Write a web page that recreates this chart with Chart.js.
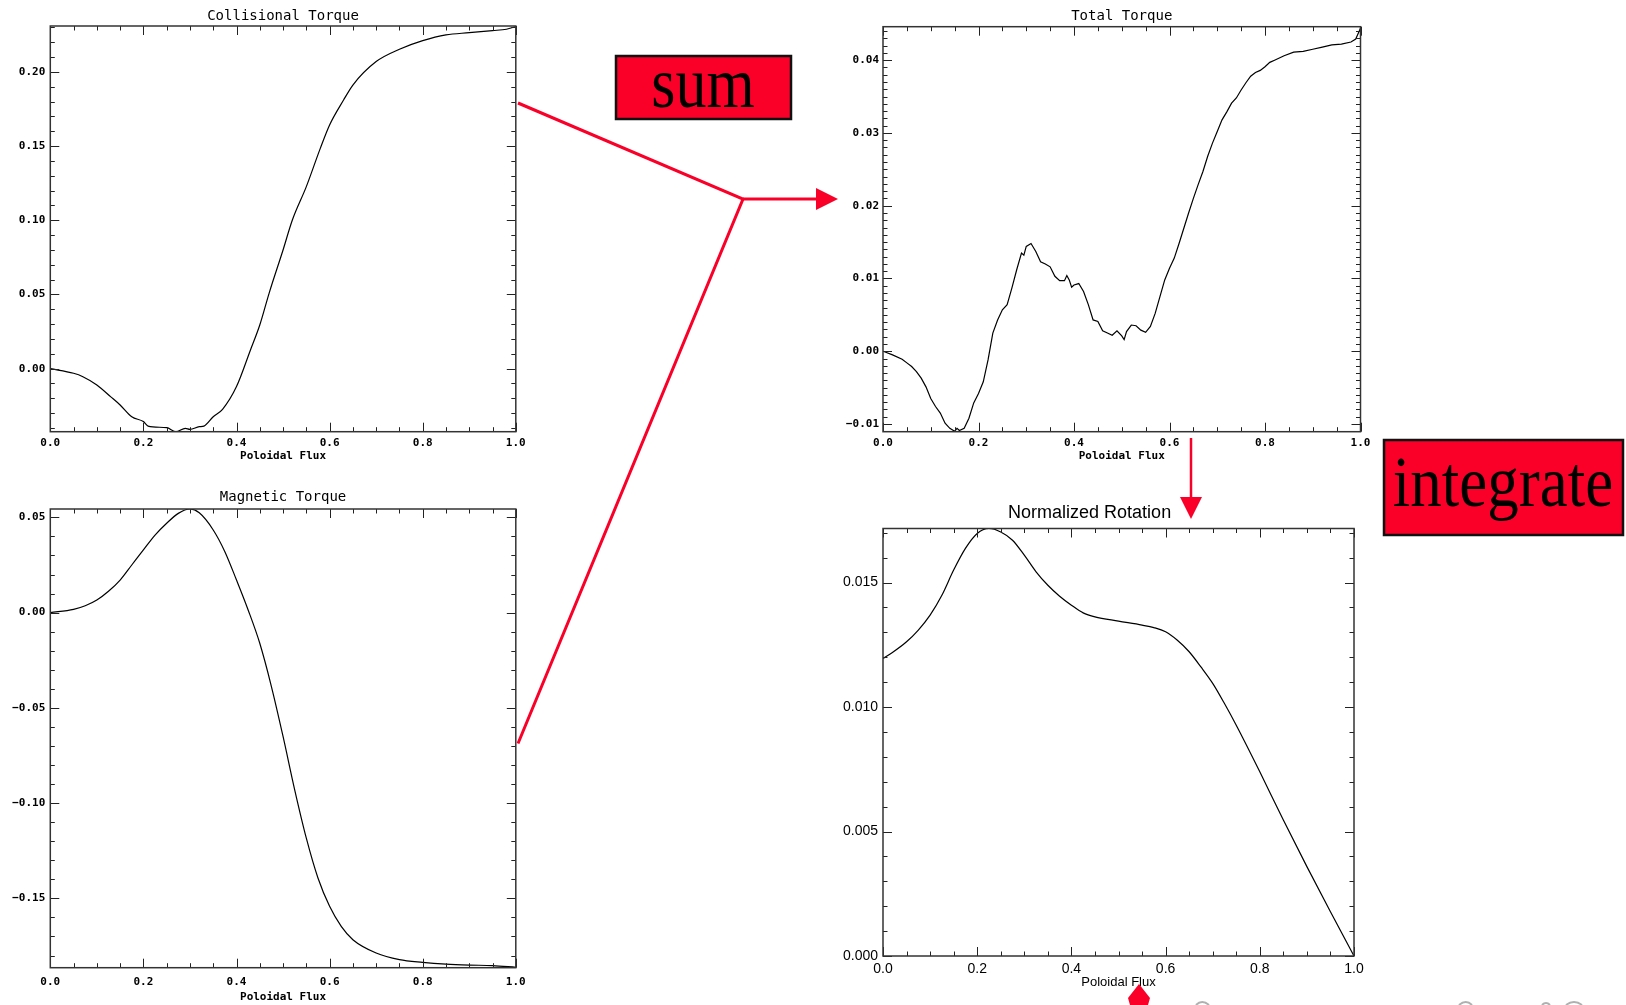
<!DOCTYPE html>
<html>
<head>
<meta charset="utf-8">
<script src="https://cdn.jsdelivr.net/npm/chart.js@4.4.0/dist/chart.umd.min.js"></script>
<style>
  html, body { margin: 0; padding: 0; background: #fff; overflow: hidden; }
  #page { position: relative; width: 1626px; height: 1005px; }
  #page canvas { position: absolute; }
  #notes { position: absolute; left: 0; top: 0; pointer-events: none; }
</style>
</head>
<body>
<div id="page">
  <canvas id="collisional" width="540" height="470" style="left:0px;top:0px"></canvas>
  <canvas id="magnetic" width="540" height="530" style="left:0px;top:475px"></canvas>
  <canvas id="total" width="560" height="470" style="left:830px;top:0px"></canvas>
  <canvas id="rotation" width="560" height="505" style="left:820px;top:500px"></canvas>
  <svg id="notes" width="1626" height="1005">
    <g stroke="#fa0028" fill="none" stroke-width="3">
      <polyline points="518,103 743,199 518,743.5" stroke-linejoin="miter"/>
      <line x1="743" y1="199" x2="818" y2="199"/>
      <line x1="1191" y1="438" x2="1191" y2="499" stroke-width="2.5"/>
    </g>
    <g fill="#fa0028">
      <polygon points="816,188 838,199 816,210"/>
      <polygon points="1180,497 1202,497 1191,519"/>
      <polygon points="1139,984 1150,998 1148,1005 1130,1005 1128,998"/>
    </g>
    <g stroke="#b0b0b0" fill="none" stroke-width="2">
      <path d="M1196,1005 Q1202,999 1209,1005"/>
      <path d="M1459,1005 Q1466,999 1472,1005"/>
      <path d="M1542,1005 Q1546,1001 1550,1005"/>
      <path d="M1566,1005 Q1574,999 1582,1005"/>
    </g>
    <rect x="616" y="56" width="175" height="63" fill="#fa0028" stroke="#111" stroke-width="2.5"/>
    <text transform="translate(703,106.5) scale(1,1.15)" text-anchor="middle"
          font-family="'Liberation Serif','DejaVu Serif',serif" font-size="62" fill="#000">sum</text>
    <rect x="1384" y="440" width="239" height="95" fill="#fa0028" stroke="#111" stroke-width="2.5"/>
    <text transform="translate(1503,506) scale(1,1.15)" text-anchor="middle"
          font-family="'Liberation Serif','DejaVu Serif',serif" font-size="63" fill="#000">integrate</text>
  </svg>
</div>
<script>
// Collisional Torque (top left)
const collisionalFlux = [0, 0.05, 0.07, 0.10, 0.13, 0.15, 0.175, 0.20, 0.21, 0.25, 0.27, 0.29, 0.30, 0.32, 0.33, 0.35, 0.37, 0.40, 0.43, 0.45, 0.47, 0.50, 0.52, 0.55, 0.58, 0.60, 0.63, 0.65, 0.70, 0.75, 0.80, 0.85, 0.90, 0.95, 0.98, 1.00];
const collisionalTorque = [0, -0.0031, -0.0054, -0.011, -0.019, -0.0245, -0.0324, -0.0357, -0.0387, -0.0398, -0.0425, -0.0402, -0.0409, -0.0391, -0.0387, -0.0324, -0.0274, -0.0121, 0.0126, 0.0294, 0.0508, 0.080, 0.1002, 0.1227, 0.1485, 0.1643, 0.1811, 0.1912, 0.207, 0.2153, 0.2211, 0.225, 0.2265, 0.2279, 0.2288, 0.2306];

// Magnetic Torque (bottom left)
const magneticFlux = [0, 0.05, 0.075, 0.10, 0.125, 0.15, 0.175, 0.20, 0.225, 0.25, 0.275, 0.30, 0.32, 0.35, 0.375, 0.40, 0.425, 0.45, 0.475, 0.50, 0.525, 0.55, 0.575, 0.60, 0.625, 0.65, 0.70, 0.75, 0.80, 0.85, 0.90, 0.95, 1.00];
const magneticTorque = [0, 0.0017, 0.0036, 0.0066, 0.0112, 0.0171, 0.025, 0.0329, 0.0407, 0.0469, 0.0521, 0.0544, 0.0524, 0.0434, 0.032, 0.0171, 0.0014, -0.0161, -0.0388, -0.065, -0.093, -0.1184, -0.1393, -0.1542, -0.1647, -0.1717, -0.1787, -0.1822, -0.1836, -0.1845, -0.185, -0.1853, -0.1862];

// Total Torque (top right)
const totalFlux = [0, 0.02, 0.04, 0.05, 0.06, 0.07, 0.08, 0.09, 0.10, 0.11, 0.12, 0.13, 0.14, 0.15, 0.155, 0.16, 0.17, 0.18, 0.19, 0.20, 0.21, 0.22, 0.23, 0.24, 0.25, 0.26, 0.27, 0.28, 0.29, 0.295, 0.30, 0.31, 0.32, 0.33, 0.34, 0.35, 0.36, 0.37, 0.38, 0.385, 0.39, 0.395, 0.40, 0.41, 0.42, 0.43, 0.44, 0.45, 0.46, 0.47, 0.48, 0.49, 0.50, 0.505, 0.51, 0.52, 0.53, 0.54, 0.55, 0.56, 0.57, 0.58, 0.59, 0.60, 0.61, 0.62, 0.63, 0.64, 0.65, 0.66, 0.67, 0.68, 0.69, 0.70, 0.71, 0.72, 0.73, 0.74, 0.75, 0.76, 0.77, 0.78, 0.79, 0.80, 0.81, 0.82, 0.84, 0.86, 0.88, 0.90, 0.92, 0.94, 0.96, 0.98, 0.99, 1.00];
const totalTorque = [0, -0.0005, -0.0011, -0.0016, -0.0021, -0.0028, -0.0037, -0.0049, -0.0065, -0.0076, -0.0085, -0.0099, -0.0106, -0.011, -0.0106, -0.0109, -0.0106, -0.0092, -0.0071, -0.0058, -0.0042, -0.0012, 0.0025, 0.0043, 0.0057, 0.0064, 0.0087, 0.0112, 0.0135, 0.0132, 0.0144, 0.0148, 0.0137, 0.0123, 0.012, 0.0116, 0.0103, 0.0097, 0.0097, 0.0104, 0.0098, 0.0088, 0.0091, 0.0093, 0.0082, 0.0064, 0.0043, 0.0041, 0.0028, 0.0025, 0.0022, 0.0028, 0.0021, 0.0016, 0.0027, 0.0036, 0.0035, 0.0029, 0.0026, 0.0034, 0.0052, 0.0075, 0.0098, 0.0114, 0.0128, 0.0148, 0.0169, 0.019, 0.021, 0.0229, 0.0247, 0.0268, 0.0286, 0.0302, 0.0318, 0.0329, 0.0341, 0.0348, 0.0359, 0.0369, 0.0378, 0.0383, 0.0386, 0.0391, 0.0397, 0.04, 0.0406, 0.0411, 0.0412, 0.0415, 0.0418, 0.0421, 0.0422, 0.0425, 0.0429, 0.0444];

// Normalized Rotation (bottom right)
const rotationFlux = [0, 0.02, 0.05, 0.075, 0.10, 0.125, 0.15, 0.175, 0.20, 0.225, 0.25, 0.275, 0.30, 0.325, 0.35, 0.375, 0.40, 0.425, 0.45, 0.50, 0.55, 0.575, 0.60, 0.625, 0.65, 0.675, 0.70, 0.725, 0.75, 0.80, 0.85, 0.90, 0.95, 1.00];
const normalizedRotation = [0.01195, 0.01219, 0.01262, 0.01309, 0.01369, 0.01449, 0.0155, 0.01637, 0.01697, 0.01717, 0.01703, 0.0167, 0.0161, 0.01543, 0.01489, 0.01445, 0.01409, 0.01378, 0.01362, 0.01345, 0.01329, 0.01319, 0.01302, 0.01268, 0.01222, 0.01161, 0.01095, 0.01014, 0.00927, 0.0074, 0.00546, 0.00359, 0.00178, 0];

// IDL style box: inward major/minor ticks on all four sides
const idlFrame = {
    id: 'idlFrame',
    afterDatasetsDraw(chart, args, opts) {
        const { ctx, chartArea: a, scales: { x, y } } = chart;
        ctx.save();
        ctx.strokeStyle = '#222';
        ctx.lineWidth = 1;
        ctx.beginPath();
        const ticks = (scale, major, minor, horiz) => {
            const lo = Math.ceil(scale.min / minor - 1e-6);
            const hi = Math.floor(scale.max / minor + 1e-6);
            for (let i = lo; i <= hi; i++) {
                const v = i * minor;
                const r = v / major;
                const len = Math.abs(r - Math.round(r)) < 1e-6 ? opts.majorLen : opts.minorLen;
                const p = Math.round(scale.getPixelForValue(v)) + 0.5;
                if (horiz) {
                    ctx.moveTo(p, a.bottom); ctx.lineTo(p, a.bottom - len);
                    ctx.moveTo(p, a.top); ctx.lineTo(p, a.top + len);
                } else {
                    ctx.moveTo(a.left, p); ctx.lineTo(a.left + len, p);
                    ctx.moveTo(a.right, p); ctx.lineTo(a.right - len, p);
                }
            }
        };
        ticks(x, 0.2, 0.05, true);
        ticks(y, opts.yMajor, opts.yMinor, false);
        ctx.stroke();
        ctx.lineWidth = 1.5;
        ctx.strokeStyle = '#333';
        ctx.strokeRect(a.left, a.top, a.right - a.left, a.bottom - a.top);
        ctx.restore();
    }
};

const fmt = d => v => (v < 0 ? '\u2212' : '') + Math.abs(v).toFixed(d);

function makeChart(id, p) {
    const ctx = document.getElementById(id).getContext('2d');
    return new Chart(ctx, {
        type: 'line',
        data: {
            datasets: [{
                data: p.xs.map((x, i) => ({ x: x, y: p.ys[i] })),
                borderColor: '#000',
                borderWidth: 1.2,
                pointRadius: 0,
                tension: 0,
                cubicInterpolationMode: p.smooth ? 'monotone' : 'default'
            }]
        },
        plugins: [idlFrame],
        options: {
            responsive: false,
            animation: false,
            events: [],
            layout: { padding: p.pad },
            plugins: {
                legend: { display: false },
                tooltip: { enabled: false },
                title: {
                    display: true,
                    text: p.title,
                    fullSize: p.titleFull || false,
                    color: '#000',
                    font: p.titleFont,
                    padding: p.titlePad
                },
                idlFrame: { yMajor: p.yStep, yMinor: p.yMinor, majorLen: 9, minorLen: 4.5 }
            },
            scales: {
                x: {
                    type: 'linear',
                    min: 0, max: 1,
                    grid: { display: false, drawTicks: false },
                    border: { display: false },
                    ticks: { stepSize: 0.2, includeBounds: false, color: '#000', font: p.tickFont, padding: p.xTickPad, maxRotation: 0, callback: fmt(1) },
                    title: { display: true, text: 'Poloidal Flux', color: '#000', font: p.axisFont, padding: { top: 0, bottom: p.xTitlePad } },
                    afterFit: s => { s.height = p.xHeight; }
                },
                y: {
                    min: p.yMin, max: p.yMax,
                    grid: { display: false, drawTicks: false },
                    border: { display: false },
                    ticks: { stepSize: p.yStep, includeBounds: false, color: '#000', font: p.tickFont, padding: p.yTickPad, callback: fmt(p.digits) },
                    afterFit: s => { s.width = p.yWidth; }
                }
            }
        }
    });
}

const idlTick = { family: "'DejaVu Sans Mono', monospace", size: 11, weight: 'bold', lineHeight: 1.2 };
const idlTitle = { family: "'DejaVu Sans Mono', monospace", size: 14, weight: 'normal', lineHeight: 1.2 };
const helvTick = { family: "'Liberation Sans', Arial, sans-serif", size: 14, weight: 'normal', lineHeight: 1.2 };
const helvAxis = { family: "'Liberation Sans', Arial, sans-serif", size: 13, weight: 'normal', lineHeight: 1.2 };
const helvTitle = { family: "'Liberation Sans', Arial, sans-serif", size: 18, weight: 'normal', lineHeight: 1.2 };

makeChart('collisional', {
    xs: collisionalFlux, ys: collisionalTorque, smooth: true,
    title: 'Collisional Torque', titleFont: idlTitle, titlePad: { top: 8.1, bottom: 1.1 },
    tickFont: idlTick, axisFont: idlTick,
    pad: { left: 0, right: 24.2, top: 0, bottom: 0 },
    yMin: -0.0425, yMax: 0.231, yStep: 0.05, yMinor: 0.01, digits: 2,
    yWidth: 50.3, yTickPad: 5, xHeight: 38.3, xTickPad: 4.7, xTitlePad: 7.4
});

makeChart('magnetic', {
    xs: magneticFlux, ys: magneticTorque, smooth: true,
    title: 'Magnetic Torque', titleFont: idlTitle, titlePad: { top: 13.9, bottom: 3.3 },
    tickFont: idlTick, axisFont: idlTick,
    pad: { left: 0, right: 24.2, top: 0, bottom: 0 },
    yMin: -0.1864, yMax: 0.0544, yStep: 0.05, yMinor: 0.01, digits: 2,
    yWidth: 50.3, yTickPad: 5, xHeight: 37.3, xTickPad: 7.5, xTitlePad: 0.8
});

makeChart('total', {
    xs: totalFlux, ys: totalTorque, smooth: false,
    title: 'Total Torque', titleFont: idlTitle, titlePad: { top: 7.6, bottom: 2.3 },
    tickFont: idlTick, axisFont: idlTick,
    pad: { left: 0, right: 29.5, top: 0, bottom: 0 },
    yMin: -0.01106, yMax: 0.0446, yStep: 0.01, yMinor: 0.001, digits: 2,
    yWidth: 53, yTickPad: 4, xHeight: 38.3, xTickPad: 4.7, xTitlePad: 7.4
});

makeChart('rotation', {
    xs: rotationFlux, ys: normalizedRotation, smooth: true,
    title: 'Normalized Rotation', titleFont: helvTitle, titlePad: { top: 2, bottom: 4.9 }, titleFull: true,
    tickFont: helvTick, axisFont: helvAxis,
    pad: { left: 5.2, right: 26, top: 0, bottom: 0 },
    yMin: 0, yMax: 0.01717, yStep: 0.005, yMinor: 0.001, digits: 3,
    yWidth: 57.8, yTickPad: 5, xHeight: 49, xTickPad: 4.6, xTitlePad: 15.2
});
</script>
</body>
</html>
